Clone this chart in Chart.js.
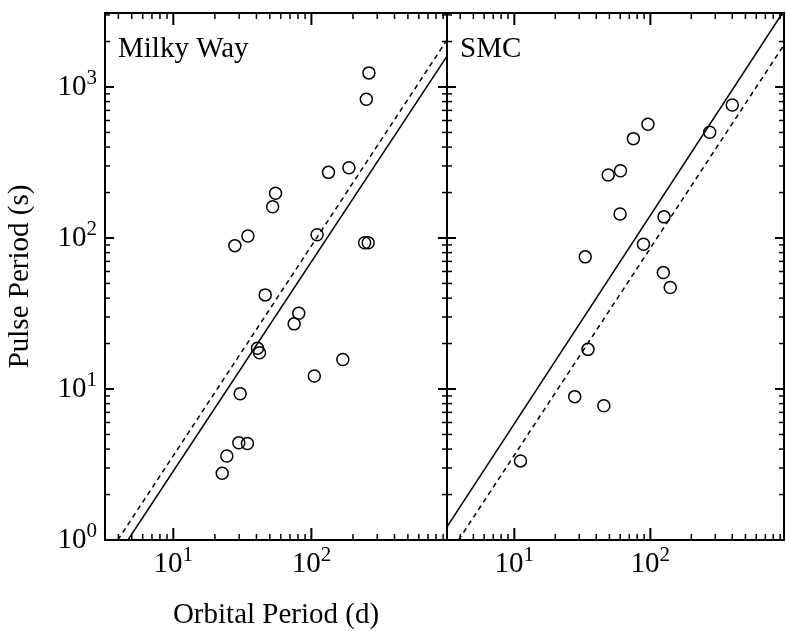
<!DOCTYPE html>
<html>
<head>
<meta charset="utf-8">
<script src="https://cdn.jsdelivr.net/npm/chart.js@4/dist/chart.umd.min.js"></script>
<style>
  html, body { margin: 0; padding: 0; background: #fff; }
  canvas { display: block; }
</style>
</head>
<body>
<canvas id="chart" width="786" height="631"></canvas>
<script>
// Milky Way systems: orbital period (d) and pulse period (s)
const mwOrbital = [261, 250, 133, 187, 55, 52.4, 34.7, 27.9, 110, 243, 258, 46.3, 81, 75, 40.7, 42.1, 169, 105, 30.5, 29.8, 34.4, 24.4, 22.6];
const mwPulse   = [1240, 830, 272, 292, 198, 161, 103, 89, 105, 93, 93, 42, 31.7, 27, 18.6, 17.4, 15.7, 12.2, 9.3, 4.4, 4.35, 3.6, 2.77];

// SMC systems
const smcOrbital = [400, 96, 75, 60.3, 49, 273, 59.9, 126, 89, 33.2, 124.5, 140, 34.8, 27.8, 45.5, 11.1];
const smcPulse   = [760, 566, 455, 279, 261, 501, 144, 138, 91, 75, 59, 47, 18.3, 8.9, 7.75, 3.34];

// fitted relations, end points only (solid and dashed)
const mwFitX = [4.69, 960];
const mwFitY = [1, 1600];
const mwDashX = [3.96, 960];
const mwDashY = [1, 2050];
const smcFitX = [3.2, 935];
const smcFitY = [1.22, 3090];
const smcDashX = [3.89, 960];
const smcDashY = [1, 1900];

// axes
const xRange = [3.2, 960];
const yRange = [1, 3090];
const panelNames = ["Milky Way", "SMC"];
const xLabelValues = [10, 100];
const yLabelValues = [1, 10, 100, 1000];

const FONT = "'Liberation Serif', 'Times New Roman', serif";

function toPoints(xs, ys) {
    return xs.map((x, i) => ({ x: x, y: ys[i] }));
}

// 1..9 x 10^n values inside a range, used for the tick marks
function logTicks(lo, hi) {
    const out = [];
    for (let e = Math.floor(Math.log10(lo)); e <= Math.ceil(Math.log10(hi)); e++) {
        for (let m = 1; m < 10; m++) {
            const v = m * Math.pow(10, e);
            if (v >= lo * 0.999 && v <= hi * 1.001) out.push({ v: v, major: m === 1 });
        }
    }
    return out;
}

// "10" with a raised exponent
function drawPower(ctx, value, x, base, align) {
    const exp = String(Math.round(Math.log10(value)));
    ctx.font = "29px " + FONT;
    const w1 = ctx.measureText("10").width;
    ctx.font = "21px " + FONT;
    const w2 = ctx.measureText(exp).width;
    const x0 = align === "center" ? x - (w1 + w2) / 2 : x - (w1 + w2);
    ctx.textAlign = "left";
    ctx.textBaseline = "alphabetic";
    ctx.font = "29px " + FONT;
    ctx.fillText("10", x0, base);
    ctx.font = "21px " + FONT;
    ctx.fillText(exp, x0 + w1, base - 11);
}

function seg(ctx, x1, y1, x2, y2, w) {
    ctx.lineWidth = w;
    ctx.beginPath();
    ctx.moveTo(x1, y1);
    ctx.lineTo(x2, y2);
    ctx.stroke();
}

// box, inward ticks, labels and panel names
const framePlugin = {
    id: "frame",
    afterDraw(chart) {
        const ctx = chart.ctx;
        const ys = chart.scales.y;
        const top = ys.top, bottom = ys.bottom;
        ctx.save();
        ctx.strokeStyle = "#000";
        ctx.fillStyle = "#000";
        ["x1", "x2"].forEach((id, p) => {
            const xs = chart.scales[id];
            const left = xs.left, right = xs.right;

            logTicks(xRange[0], xRange[1]).forEach(t => {
                const px = xs.getPixelForValue(t.v);
                const len = t.major ? 12 : 6;
                const w = t.major ? 2 : 1.5;
                seg(ctx, px, bottom, px, bottom - len, w);
                seg(ctx, px, top, px, top + len, w);
            });
            logTicks(yRange[0], yRange[1]).forEach(t => {
                const py = ys.getPixelForValue(t.v);
                const len = t.major ? 9 : 5;
                const w = t.major ? 2 : 1.5;
                seg(ctx, left, py, left + len, py, w);
                seg(ctx, right, py, right - len, py, w);
            });

            ctx.lineWidth = 2;
            ctx.strokeRect(left, top, right - left, bottom - top);

            xLabelValues.forEach(v => {
                drawPower(ctx, v, xs.getPixelForValue(v), bottom + 32, "center");
            });

            ctx.font = "29px " + FONT;
            ctx.textAlign = "left";
            ctx.textBaseline = "alphabetic";
            ctx.fillText(panelNames[p], left + 13, top + 44);
        });
        yLabelValues.forEach(v => {
            drawPower(ctx, v, ys.left + 97, ys.getPixelForValue(v) + 8, "right");
        });
        ctx.restore();
    }
};

const circleStyle = {
    showLine: false,
    pointStyle: "circle",
    pointRadius: 6,
    pointHoverRadius: 6,
    borderColor: "#000",
    borderWidth: 1.5,
    backgroundColor: "rgba(0,0,0,0)"
};

const lineStyle = {
    showLine: true,
    pointRadius: 0,
    borderColor: "#000",
    borderWidth: 1.5,
    backgroundColor: "rgba(0,0,0,0)"
};

const xAxis = (weight, titleText) => ({
    type: "logarithmic",
    position: "bottom",
    stack: "orbital",
    stackWeight: weight,
    min: xRange[0],
    max: xRange[1],
    grid: { display: false },
    border: { display: false },
    ticks: { display: false },
    title: {
        display: titleText !== "",
        text: titleText,
        color: "#000",
        font: { family: FONT, size: 29 },
        padding: { top: 0, bottom: -2 }
    },
    afterFit: (scale) => { scale.height = 91; }
});

new Chart(document.getElementById("chart"), {
    type: "scatter",
    data: {
        datasets: [
            Object.assign({ label: "Milky Way", data: toPoints(mwOrbital, mwPulse), xAxisID: "x1", yAxisID: "y" }, circleStyle),
            Object.assign({ label: "MW fit", data: toPoints(mwFitX, mwFitY), xAxisID: "x1", yAxisID: "y" }, lineStyle),
            Object.assign({ label: "MW fit 2", data: toPoints(mwDashX, mwDashY), xAxisID: "x1", yAxisID: "y", borderDash: [5, 4] }, lineStyle),
            Object.assign({ label: "SMC", data: toPoints(smcOrbital, smcPulse), xAxisID: "x2", yAxisID: "y" }, circleStyle),
            Object.assign({ label: "SMC fit", data: toPoints(smcFitX, smcFitY), xAxisID: "x2", yAxisID: "y" }, lineStyle),
            Object.assign({ label: "SMC fit 2", data: toPoints(smcDashX, smcDashY), xAxisID: "x2", yAxisID: "y", borderDash: [5, 4] }, lineStyle)
        ]
    },
    options: {
        responsive: false,
        animation: false,
        devicePixelRatio: 1,
        layout: { autoPadding: false, padding: { top: 13, right: 2, left: 0, bottom: 0 } },
        plugins: {
            legend: { display: false },
            tooltip: { enabled: false }
        },
        scales: {
            x1: xAxis(342, "Orbital Period (d)"),
            x2: xAxis(337, ""),
            y: {
                type: "logarithmic",
                position: "left",
                min: yRange[0],
                max: yRange[1],
                grid: { display: false },
                border: { display: false },
                ticks: { display: false },
                title: {
                    display: true,
                    text: "Pulse Period (s)",
                    color: "#000",
                    font: { family: FONT, size: 29 },
                    padding: { top: 3, bottom: 0 }
                },
                afterFit: (scale) => { scale.width = 105; }
            }
        }
    },
    plugins: [framePlugin]
});
</script>
</body>
</html>
